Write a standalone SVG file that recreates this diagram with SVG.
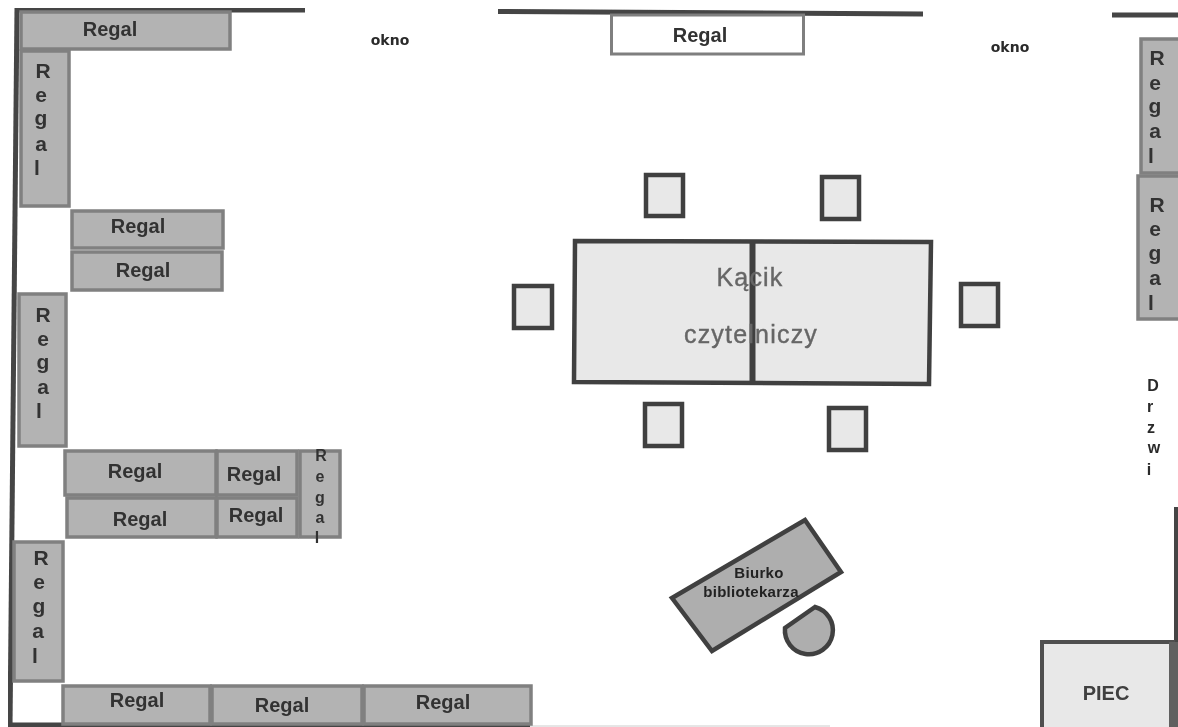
<svg xmlns="http://www.w3.org/2000/svg" width="1178" height="727" viewBox="0 0 1178 727">
<style>
.w{stroke:#444;fill:none;stroke-width:5}
.r{fill:#b3b3b3;stroke:#808080;stroke-width:3.5}
.c{fill:#e8e8e8;stroke:#404040;stroke-width:4.5}
.t{font-family:"Liberation Sans",Arial,sans-serif;font-weight:bold;font-size:20px;fill:#333;text-anchor:middle}
.v{font-size:21px}
.o{font-family:"DejaVu Sans",sans-serif;font-weight:bold;font-size:14px;fill:#2b2b2b;text-anchor:middle}
.k{font-family:"Liberation Sans",Arial,sans-serif;font-size:25px;fill:#666;stroke:#666;stroke-width:.4;text-anchor:middle;letter-spacing:1.2px}
.d{font-family:"Liberation Sans",Arial,sans-serif;font-weight:bold;font-size:16px;fill:#2b2b2b;text-anchor:middle}
.b{font-size:15px;fill:#222}
</style>
<defs><filter id="b" x="0" y="0" width="100%" height="100%"><feGaussianBlur stdDeviation="0.5"/></filter></defs>
<rect width="1178" height="727" fill="#fff"/>
<g filter="url(#b)">
<g id="connectors">
<path class="w" d="M305 10H17"/>
<path class="w" d="M17 8L10 727"/>
<path class="w" d="M8 725H530"/>
<path class="w" d="M498 11.500L923 14"/>
<path class="w" d="M1112 15H1178"/>
<path class="w" d="M1176.500 507V642" stroke-width="3"/>
<path d="M530 726H830" stroke="#ccc" stroke-width="1" fill="none"/>
</g>
<g id="regal-top"><rect class="r" x="21" y="12" width="209" height="37"/><text class="t" x="110" y="36">Regal</text></g>
<g id="regal-left1"><rect class="r" x="21" y="51" width="48" height="155"/><text class="t v"><tspan x="43" y="78">R</tspan><tspan x="41" y="102">e</tspan><tspan x="41" y="125">g</tspan><tspan x="41" y="151">a</tspan><tspan x="37" y="175">l</tspan></text></g>
<g id="regal-a"><rect class="r" x="72" y="211" width="151" height="37"/><text class="t" x="138" y="233">Regal</text></g>
<g id="regal-b"><rect class="r" x="72" y="252" width="150" height="38"/><text class="t" x="143" y="277">Regal</text></g>
<g id="regal-left2"><rect class="r" x="19" y="294" width="47" height="152"/><text class="t v"><tspan x="43" y="322">R</tspan><tspan x="43" y="346">e</tspan><tspan x="43" y="369">g</tspan><tspan x="43" y="394">a</tspan><tspan x="39" y="418">l</tspan></text></g>
<g id="regal-c"><rect class="r" x="65" y="451" width="151" height="44"/><text class="t" x="135" y="478">Regal</text></g>
<g id="regal-d"><rect class="r" x="217" y="451" width="80" height="44"/><text class="t" x="254" y="481">Regal</text></g>
<g id="regal-e"><rect class="r" x="67" y="498" width="149" height="39"/><text class="t" x="140" y="526">Regal</text></g>
<g id="regal-f"><rect class="r" x="217" y="498" width="80" height="39"/><text class="t" x="256" y="522">Regal</text></g>
<g id="regal-g"><rect class="r" x="300" y="451" width="40" height="86"/><text class="t" style="font-size:16px"><tspan x="321" y="461">R</tspan><tspan x="320" y="482">e</tspan><tspan x="320" y="503">g</tspan><tspan x="320" y="523">a</tspan><tspan x="317" y="543">l</tspan></text></g>
<g id="regal-left3"><rect class="r" x="14" y="542" width="49" height="139"/><text class="t v"><tspan x="41" y="565">R</tspan><tspan x="39" y="589">e</tspan><tspan x="39" y="613">g</tspan><tspan x="38" y="638">a</tspan><tspan x="35" y="663">l</tspan></text></g>
<g id="regal-h"><rect class="r" x="63" y="686" width="147" height="38"/><text class="t" x="137" y="707">Regal</text></g>
<g id="regal-i"><rect class="r" x="212" y="686" width="150" height="38"/><text class="t" x="282" y="712">Regal</text></g>
<g id="regal-j"><rect class="r" x="364" y="686" width="167" height="38"/><text class="t" x="443" y="709">Regal</text></g>
<g id="regal-white"><rect x="611.500" y="15" width="192" height="39" fill="#fff" stroke="#7f7f7f" stroke-width="3"/><text class="t" x="700" y="42">Regal</text></g>
<g id="regal-right1"><rect class="r" x="1141" y="39" width="39" height="134"/><text class="t v"><tspan x="1157" y="65">R</tspan><tspan x="1155" y="90">e</tspan><tspan x="1155" y="113">g</tspan><tspan x="1155" y="138">a</tspan><tspan x="1151" y="163">l</tspan></text></g>
<g id="regal-right2"><rect class="r" x="1138" y="176" width="42" height="143"/><text class="t v"><tspan x="1157" y="212">R</tspan><tspan x="1155" y="236">e</tspan><tspan x="1155" y="260">g</tspan><tspan x="1155" y="285">a</tspan><tspan x="1151" y="310">l</tspan></text></g>
<g id="okno1"><text class="o" x="390" y="45">okno</text></g>
<g id="okno2"><text class="o" x="1010" y="52">okno</text></g>
<g id="drzwi"><text class="d"><tspan x="1153" y="391">D</tspan><tspan x="1150" y="412">r</tspan><tspan x="1151" y="433">z</tspan><tspan x="1154" y="453">w</tspan><tspan x="1149" y="475">i</tspan></text></g>
<g id="stol"><path class="c" d="M575 241L931 242L929 384L574 382Z"/><path d="M752.500 240V384" stroke="#404040" stroke-width="6"/><text class="k" x="750" y="286">Kącik</text><text class="k" x="751" y="343">czytelniczy</text></g>
<g id="krzeslo1"><rect class="c" x="646" y="175" width="37" height="41"/></g>
<g id="krzeslo2"><rect class="c" x="822" y="177" width="37" height="42"/></g>
<g id="krzeslo3"><rect class="c" x="514" y="286" width="38" height="42"/></g>
<g id="krzeslo4"><rect class="c" x="961" y="284" width="37" height="42"/></g>
<g id="krzeslo5"><rect class="c" x="645" y="404" width="37" height="42"/></g>
<g id="krzeslo6"><rect class="c" x="829" y="408" width="37" height="42"/></g>
<g id="biurko"><path d="M805 520L841 572L712 651L672 598Z" fill="#aeaeae" stroke="#404040" stroke-width="4.500"/><text class="t b" style="letter-spacing:.3px" x="759" y="578">Biurko</text><text class="t b" style="letter-spacing:.3px" x="751" y="597">bibliotekarza</text></g>
<g id="krzeslo-biurko"><path d="M815 607L785 628A24 24 0 1 0 815 607Z" fill="#aeaeae" stroke="#404040" stroke-width="4.500"/></g>
<g id="piec"><path d="M1042 727V642H1178" fill="#e8e8e8" stroke="none"/><rect x="1042" y="642" width="131" height="87" fill="#e8e8e8" stroke="#505050" stroke-width="4"/><rect x="1169" y="642" width="9" height="85" fill="#606060"/><text x="1106" y="700" style="font-family:'Liberation Sans',Arial,sans-serif;font-size:20px;font-weight:bold;text-anchor:middle;fill:#404040">PIEC</text></g>
</g>
</svg>
